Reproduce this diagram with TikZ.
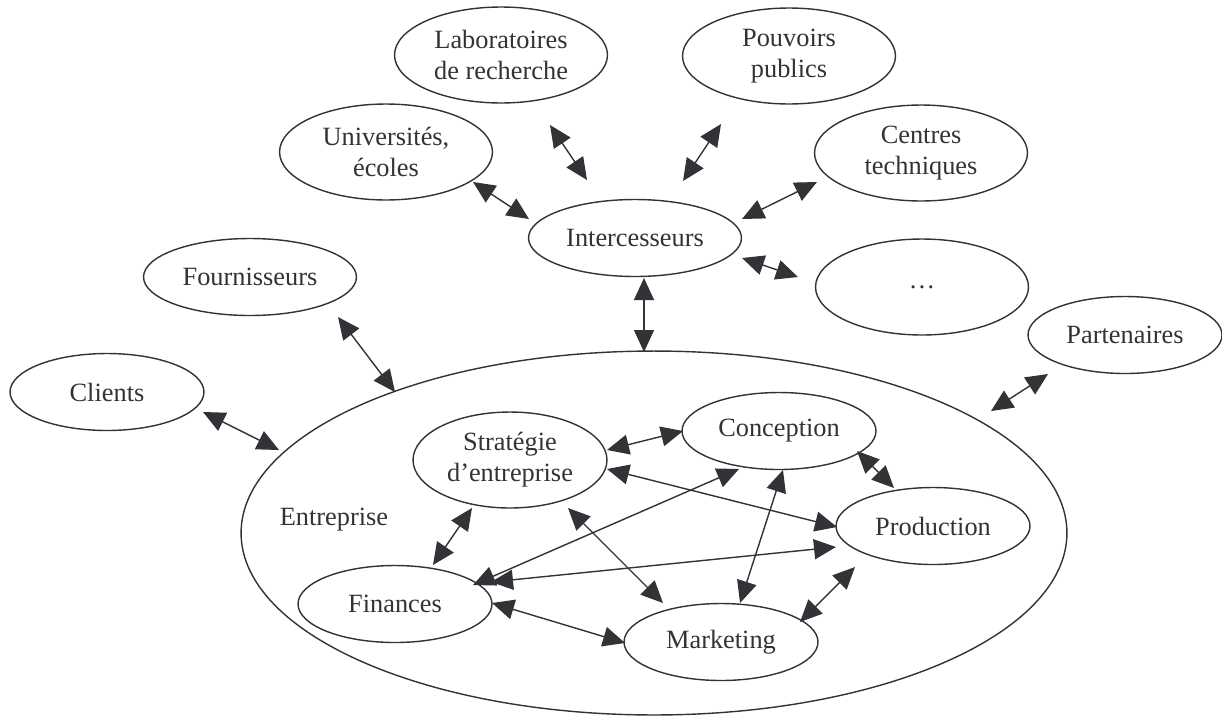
\documentclass[tikz,border=0pt]{standalone}
\usepackage{fontspec}
\setmainfont{Liberation Serif}
\usetikzlibrary{shapes.geometric,arrows.meta}
\definecolor{ink}{RGB}{50,50,55}

\begin{document}
\begin{tikzpicture}[x=0.02cm, y=-0.02cm,
		every node/.style={text=ink, font=\fontsize{15}{17.6}\selectfont},
		e/.style={ellipse, draw=ink, line width=.8pt, inner sep=0pt, align=center, minimum width=3.88cm, minimum height=1.54cm},
		w/.style={minimum width=4.26cm},
		t/.style={minimum height=1.92cm},
		a/.style={{Triangle[length=.44cm,width=.4cm]}-{Triangle[length=.44cm,width=.4cm]}, color=ink, line width=.8pt}]
		\useasboundingbox (0,0) rectangle (1222,717);

		% partenaires exterieurs
		\node[e, w, t] (labo) at (501,55) {Laboratoires\\de recherche};
		\node[e, w, t] (univ) at (386,152) {Universités,\\écoles};
		\node[e, w, t] (pouv) at (789,56) {Pouvoirs\\publics};
		\node[e, w, t] (centres) at (921,153) {Centres\\techniques};
		\node[e, w, t] (autres) at (922,287) {\dots};
		\node[e, w] (inter) at (635,238) {Intercesseurs};
		\node[e, w] (fourn) at (250,277) {Fournisseurs};
		\node[e] (clients) at (107,392) {Clients};
		\node[e] (part) at (1125,335) {Partenaires};

		% entreprise
		\node[e, minimum width=16.52cm, minimum height=7.28cm] (ent) at (654,533) {};
		\node (ent_label) at (334,520) {Entreprise};
		\node[e, t] (strat) at (510,460) {Stratégie\\d’entreprise};
		\node[e] (conc) at (779,431) {Conception};
		\node[e] (prod) at (933,526) {Production};
		\node[e] (fin) at (395,604) {Finances};
		\node[e] (mark) at (721,642) {Marketing};

		\coordinate (lab1) at (550,125); \coordinate (lab2) at (587,180);
		\coordinate (pou1) at (721,124); \coordinate (pou2) at (683,181);
		\coordinate (uni1) at (473,182); \coordinate (uni2) at (529,219);
		\coordinate (cen1) at (817,182); \coordinate (cen2) at (742,219);
		\coordinate (aut1) at (798,277); \coordinate (aut2) at (742,258);
		\coordinate (int1) at (644,278); \coordinate (int2) at (644,352);
		\coordinate (fou1) at (338,317); \coordinate (fou2) at (395,392);
		\coordinate (cli1) at (203,412); \coordinate (cli2) at (279,450);
		\coordinate (par1) at (1048,374); \coordinate (par2) at (991,411);

		\coordinate (sc1) at (607,450); \coordinate (sc2) at (683,431);
		\coordinate (sp1) at (607,469); \coordinate (sp2) at (837,527);
		\coordinate (cp1) at (857,451); \coordinate (cp2) at (894,488);
		\coordinate (sf1) at (472,508); \coordinate (sf2) at (433,565);
		\coordinate (fc1) at (473,585); \coordinate (fc2) at (739,469);
		\coordinate (fp1) at (491,582); \coordinate (fp2) at (836,547);
		\coordinate (sm1) at (568,508); \coordinate (sm2) at (663,603);
		\coordinate (cm1) at (783,470); \coordinate (cm2) at (740,603);
		\coordinate (fm1) at (492,603); \coordinate (fm2) at (625,643);
		\coordinate (pm1) at (855,567); \coordinate (pm2) at (800,622);

		\path[a] (lab1) edge (lab2) (pou1) edge (pou2) (uni1) edge (uni2);
		\path[a] (cen1) edge (cen2) (aut1) edge (aut2) (int1) edge (int2);
		\path[a] (fou1) edge (fou2) (cli1) edge (cli2) (par1) edge (par2);

		\path[a] (sc1) edge (sc2) (sp1) edge (sp2) (cp1) edge (cp2);
		\path[a] (sf1) edge (sf2) (fc1) edge (fc2) (fp1) edge (fp2);
		\path[a] (sm1) edge (sm2) (cm1) edge (cm2) (fm1) edge (fm2);
		\path[a] (pm1) edge (pm2);
	\end{tikzpicture}
\end{document}
